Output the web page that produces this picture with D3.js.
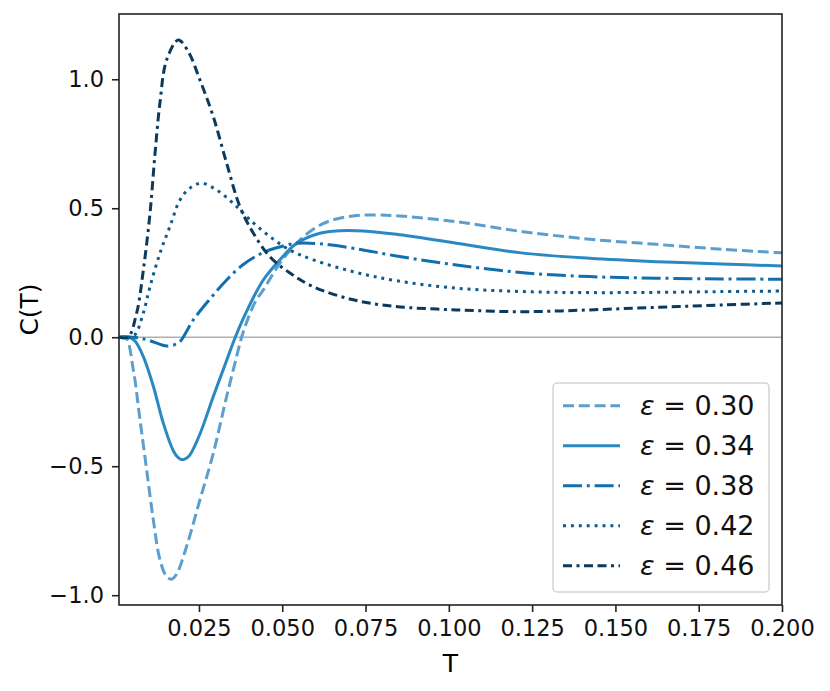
<!DOCTYPE html>
<html>
<head>
<meta charset="utf-8">
<script src="https://cdn.jsdelivr.net/npm/d3@7"></script>
<style>
  body { margin: 0; background: #fff; }
  text { font-family: "DejaVu Sans", sans-serif; }
</style>
</head>
<body>
<div id="viz"></div>
<script>
// values
var epsLabels = ['0.30', '0.34', '0.38', '0.42', '0.46'];

var t30 = [0.001, 0.003, 0.0053, 0.0073, 0.0093, 0.0113, 0.0133, 0.0153, 0.0168, 0.0183, 0.0213, 0.0253, 0.0293, 0.0333, 0.0363, 0.0378, 0.0398, 0.042, 0.0443, 0.0493, 0.0543, 0.0593, 0.0643, 0.0713, 0.0783, 0.0843, 0.1023, 0.1223, 0.1423, 0.1623, 0.1823, 0.2];
var c30 = [0, 0, -0.127, -0.32, -0.514, -0.708, -0.863, -0.928, -0.938, -0.918, -0.81, -0.63, -0.45, -0.23, -0.075, 0, 0.075, 0.14, 0.183, 0.287, 0.364, 0.419, 0.451, 0.47, 0.474, 0.471, 0.448, 0.409, 0.38, 0.36, 0.341, 0.327];

var t34 = [0.001, 0.004, 0.0058, 0.0083, 0.0113, 0.0143, 0.0173, 0.0187, 0.02, 0.0212, 0.0223, 0.0253, 0.0293, 0.0333, 0.0359, 0.0393, 0.0443, 0.0493, 0.0543, 0.0613, 0.0673, 0.0743, 0.0843, 0.1023, 0.1223, 0.1423, 0.1623, 0.182, 0.2];
var c34 = [0, 0, -0.015, -0.075, -0.19, -0.333, -0.44, -0.466, -0.475, -0.469, -0.456, -0.375, -0.23, -0.09, 0, 0.1, 0.222, 0.30, 0.364, 0.403, 0.413, 0.412, 0.399, 0.364, 0.326, 0.306, 0.293, 0.284, 0.276];

var t38 = [0.001, 0.005, 0.0075, 0.0099, 0.0139, 0.0153, 0.0175, 0.0193, 0.0233, 0.0283, 0.0333, 0.0383, 0.0433, 0.0478, 0.0543, 0.0613, 0.0713, 0.0843, 0.1023, 0.1223, 0.1423, 0.1623, 0.182, 0.2];
var c38 = [0, 0, -0.004, -0.012, -0.03, -0.034, -0.03, -0.017, 0.067, 0.148, 0.222, 0.282, 0.322, 0.345, 0.364, 0.362, 0.345, 0.315, 0.28, 0.25, 0.235, 0.229, 0.226, 0.225];

var t42 = [0.001, 0.004, 0.0058, 0.0083, 0.0103, 0.0133, 0.0163, 0.0193, 0.0223, 0.0258, 0.0303, 0.0353, 0.0403, 0.0463, 0.0523, 0.0593, 0.0713, 0.0843, 0.1023, 0.1223, 0.1423, 0.1623, 0.182, 0.2];
var c42 = [0, 0, 0.01, 0.094, 0.196, 0.326, 0.43, 0.532, 0.578, 0.597, 0.571, 0.519, 0.455, 0.39, 0.338, 0.30, 0.254, 0.219, 0.19, 0.177, 0.173, 0.174, 0.177, 0.179];

var t46 = [0.001, 0.0037, 0.0063, 0.0083, 0.0103, 0.0118, 0.0133, 0.0153, 0.0188, 0.0218, 0.0253, 0.0293, 0.0333, 0.0373, 0.0413, 0.0463, 0.0523, 0.0593, 0.0713, 0.0833, 0.1023, 0.1222, 0.1423, 0.1623, 0.1822, 0.2];
var c46 = [0, 0, 0.094, 0.26, 0.48, 0.71, 0.91, 1.075, 1.152, 1.107, 0.997, 0.855, 0.675, 0.506, 0.404, 0.312, 0.249, 0.196, 0.145, 0.12, 0.106, 0.099, 0.106, 0.116, 0.125, 0.133];

var xTicks = [0.025, 0.05, 0.075, 0.1, 0.125, 0.15, 0.175, 0.2];
var yTicks = [-1.0, -0.5, 0.0, 0.5, 1.0];

(function() {
  'use strict';

  var tList = [t30, t34, t38, t42, t46];
  var cList = [c30, c34, c38, c42, c46];
  var colors = ['#5b9fcf', '#2a88c2', '#126fae', '#0d5a8f', '#0a3a5e'];
  var dashes = ['11,4.8', null, '19,4.8,3,4.8', '3,4.9', '9,4.5,3,4.5,9,4.5'];

  var W = 830, H = 691;
  var mL = 119, mR = 782, mT = 14, mB = 605;

  var svg = d3.select('#viz').append('svg')
    .attr('width', W).attr('height', H);

  var x = d3.scaleLinear().domain([0.001, 0.2]).range([mL, mR]);
  var y = d3.scaleLinear().domain([-1.038, 1.253]).range([mB, mT]);

  // zero line
  svg.append('line')
    .attr('x1', mL).attr('x2', mR)
    .attr('y1', y(0)).attr('y2', y(0))
    .style('stroke', '#b0b0b0').style('stroke-width', 1.6);

  svg.append('clipPath').attr('id', 'clip')
    .append('rect').attr('x', mL).attr('y', mT)
    .attr('width', mR - mL).attr('height', mB - mT);

  var line = d3.line()
    .x(function(d) { return x(d[0]); })
    .y(function(d) { return y(d[1]); })
    .curve(d3.curveCatmullRom.alpha(0.5));

  var plot = svg.append('g').attr('clip-path', 'url(#clip)');
  tList.forEach(function(ts, i) {
    var pts = ts.map(function(t, j) { return [t, cList[i][j]]; });
    plot.append('path')
      .attr('d', line(pts))
      .style('fill', 'none')
      .style('stroke', colors[i])
      .style('stroke-width', 3)
      .style('stroke-dasharray', dashes[i]);
  });

  // axes
  var xAxis = svg.append('g').attr('transform', 'translate(0,' + mB + ')')
    .call(d3.axisBottom(x).tickValues(xTicks).tickFormat(d3.format('.3f'))
      .tickSize(7).tickSizeOuter(0).tickPadding(8));
  var yAxis = svg.append('g').attr('transform', 'translate(' + mL + ',0)')
    .call(d3.axisLeft(y).tickValues(yTicks).tickFormat(d3.format('.1f'))
      .tickSize(7).tickSizeOuter(0).tickPadding(8));

  [xAxis, yAxis].forEach(function(a) {
    a.select('.domain').remove();
    a.selectAll('.tick line').style('stroke', '#222').style('stroke-width', 1.6);
    a.selectAll('.tick text').style('font-size', '22.5px').style('fill', '#111')
      .style('font-family', '"DejaVu Sans", sans-serif');
  });

  // frame
  svg.append('rect')
    .attr('x', mL).attr('y', mT)
    .attr('width', mR - mL).attr('height', mB - mT)
    .style('fill', 'none').style('stroke', '#222').style('stroke-width', 1.6);

  // labels
  svg.append('text')
    .attr('x', (mL + mR) / 2).attr('y', 672)
    .attr('text-anchor', 'middle')
    .style('font-size', '25px').text('T');
  svg.append('text')
    .attr('transform', 'translate(38,' + ((mT + mB) / 2) + ') rotate(-90)')
    .attr('text-anchor', 'middle')
    .style('font-size', '25px').text('C(T)');

  // legend
  var lg = svg.append('g');
  lg.append('rect')
    .attr('x', 553).attr('y', 383)
    .attr('width', 216).attr('height', 209)
    .attr('rx', 4)
    .style('fill', '#fff').style('fill-opacity', 0.8)
    .style('stroke', '#d4d4d4').style('stroke-width', 1.5);

  epsLabels.forEach(function(lab, i) {
    var yy = 405.7 + i * 40;
    lg.append('line')
      .attr('x1', 563).attr('x2', 620)
      .attr('y1', yy).attr('y2', yy)
      .style('stroke', colors[i]).style('stroke-width', 3)
      .style('stroke-dasharray', dashes[i]);
    var t = lg.append('text')
      .attr('x', 640).attr('y', yy + 9.5)
      .style('font-size', '27px').style('fill', '#111');
    t.append('tspan').style('font-style', 'italic').text('\u03b5');
    t.append('tspan').text(' = ' + lab);
  });
})();
</script>
</body>
</html>
